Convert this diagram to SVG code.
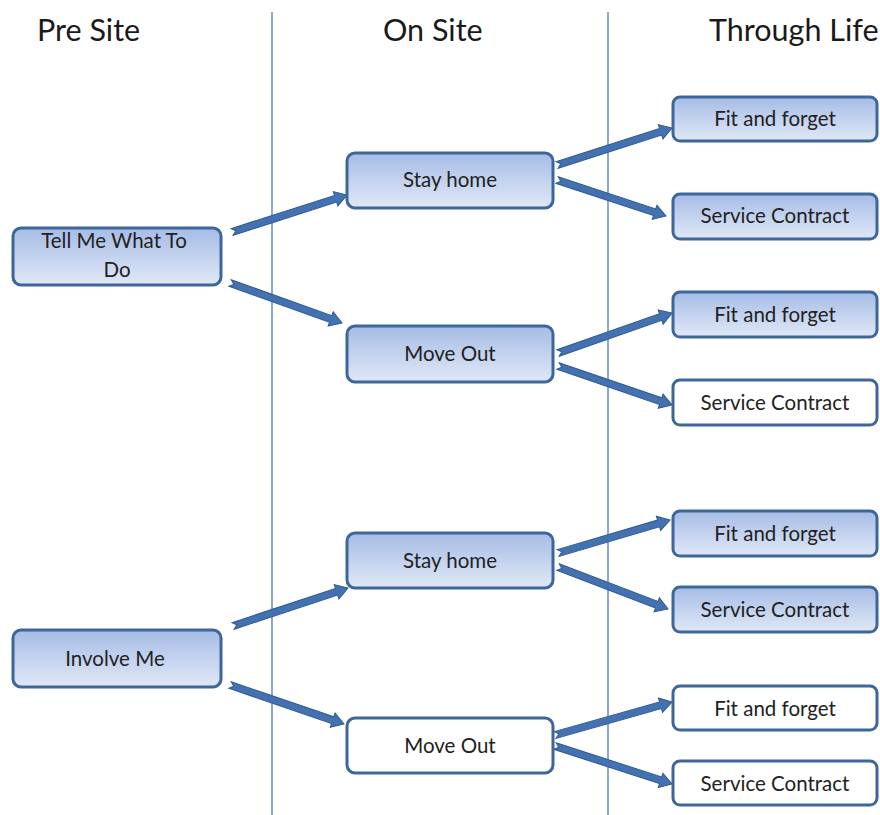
<svg xmlns="http://www.w3.org/2000/svg" width="880" height="815" viewBox="0 0 880 815">
  <style>
    .hdr { font-family: Lato, "Open Sans", "Liberation Sans", sans-serif; font-size: 30.5px; fill: #1a1a1a; }
    .lbl { font-family: Lato, "Open Sans", "Liberation Sans", sans-serif; font-size: 20.5px; fill: #222222; text-anchor: middle; }
    .box { fill: url(#boxFill); stroke: #3d679b; stroke-width: 3; }
    .box-plain { fill: #ffffff; stroke: #3d679b; stroke-width: 3; }
    .lane { stroke: #8aa9d2; stroke-width: 2; }
    .arrow { fill: #4472b0; stroke: #2f5a91; stroke-width: 1; }
  </style>
  <defs>
    <linearGradient id="boxFill" x1="0" y1="0" x2="0" y2="1">
      <stop offset="0" stop-color="#a6bce6"/>
      <stop offset="1" stop-color="#e0e8f6"/>
    </linearGradient>
  </defs>

  <rect width="880" height="815" fill="#ffffff"/>

  <!-- column separators -->
  <g id="lanes">
    <line class="lane" x1="272" y1="12" x2="272" y2="815"/>
    <line class="lane" x1="608" y1="12" x2="608" y2="815"/>
  </g>

  <!-- column headings -->
  <g id="headings">
    <text class="hdr" x="37" y="41">Pre Site</text>
    <text class="hdr" x="383" y="41">On Site</text>
    <text class="hdr" x="709" y="41">Through Life</text>
  </g>

  <!-- block arrows: drawn along +x from the tail, then rotated into place -->
  <g id="connectors">
    <path class="arrow" transform="translate(232,232) rotate(-17.8)" d="M0,-3.5 H108.8 V-7.5 L120.8,0 L108.8,7.5 V3.5 H0 L4,0 Z"/>
    <path class="arrow" transform="translate(230,283) rotate(19.65)" d="M0,-3.5 H106.9 V-7.5 L118.9,0 L106.9,7.5 V3.5 H0 L4,0 Z"/>
    <path class="arrow" transform="translate(557,165) rotate(-17.8)" d="M0,-3.5 H108.8 V-7.5 L120.8,0 L108.8,7.5 V3.5 H0 L4,0 Z"/>
    <path class="arrow" transform="translate(557,180) rotate(18.3)" d="M0,-3.5 H102.8 V-7.5 L114.8,0 L102.8,7.5 V3.5 H0 L4,0 Z"/>
    <path class="arrow" transform="translate(558,353) rotate(-19.3)" d="M0,-3.5 H108.8 V-7.5 L120.8,0 L108.8,7.5 V3.5 H0 L4,0 Z"/>
    <path class="arrow" transform="translate(558,366) rotate(18.9)" d="M0,-3.5 H108.5 V-7.5 L120.5,0 L108.5,7.5 V3.5 H0 L4,0 Z"/>
    <path class="arrow" transform="translate(233,626) rotate(-18.3)" d="M0,-3.5 H109.1 V-7.5 L121.1,0 L109.1,7.5 V3.5 H0 L4,0 Z"/>
    <path class="arrow" transform="translate(230,685) rotate(18.9)" d="M0,-3.5 H108.5 V-7.5 L120.5,0 L108.5,7.5 V3.5 H0 L4,0 Z"/>
    <path class="arrow" transform="translate(558,553) rotate(-16.4)" d="M0,-3.5 H104.8 V-7.5 L116.8,0 L104.8,7.5 V3.5 H0 L4,0 Z"/>
    <path class="arrow" transform="translate(558,567) rotate(20.9)" d="M0,-3.5 H105.7 V-7.5 L117.7,0 L105.7,7.5 V3.5 H0 L4,0 Z"/>
    <path class="arrow" transform="translate(555,735) rotate(-15.75)" d="M0,-3.5 H109.6 V-7.5 L121.6,0 L109.6,7.5 V3.5 H0 L4,0 Z"/>
    <path class="arrow" transform="translate(555,746) rotate(18)" d="M0,-3.5 H111 V-7.5 L123,0 L111,7.5 V3.5 H0 L4,0 Z"/>
  </g>

  <!-- pre site -->
  <g id="tell-me">
    <rect class="box" x="13" y="228" width="208" height="57" rx="8"/>
    <text class="lbl" x="114" y="248">Tell Me What To</text>
    <text class="lbl" x="117" y="277">Do</text>
  </g>
  <g id="involve-me">
    <rect class="box" x="13" y="630" width="208" height="57" rx="8"/>
    <text class="lbl" x="115" y="666">Involve Me</text>
  </g>

  <!-- on site -->
  <g id="stay-home-1">
    <rect class="box" x="347" y="153" width="206" height="55" rx="8"/>
    <text class="lbl" x="450" y="187">Stay home</text>
  </g>
  <g id="move-out-1">
    <rect class="box" x="347" y="326" width="206" height="56" rx="8"/>
    <text class="lbl" x="450" y="361">Move Out</text>
  </g>
  <g id="stay-home-2">
    <rect class="box" x="347" y="533" width="206" height="55" rx="8"/>
    <text class="lbl" x="450" y="568">Stay home</text>
  </g>
  <g id="move-out-2">
    <rect class="box-plain" x="347" y="718" width="206" height="55" rx="8"/>
    <text class="lbl" x="450" y="753">Move Out</text>
  </g>

  <!-- through life -->
  <g id="fit-forget-1">
    <rect class="box" x="673" y="97" width="204" height="44" rx="7"/>
    <text class="lbl" x="775" y="126">Fit and forget</text>
  </g>
  <g id="service-contract-1">
    <rect class="box" x="673" y="194" width="204" height="45" rx="7"/>
    <text class="lbl" x="775" y="223">Service Contract</text>
  </g>
  <g id="fit-forget-2">
    <rect class="box" x="673" y="292" width="204" height="45" rx="7"/>
    <text class="lbl" x="775" y="322">Fit and forget</text>
  </g>
  <g id="service-contract-2">
    <rect class="box-plain" x="673" y="380" width="204" height="45" rx="7"/>
    <text class="lbl" x="775" y="410">Service Contract</text>
  </g>
  <g id="fit-forget-3">
    <rect class="box" x="673" y="511" width="204" height="45" rx="7"/>
    <text class="lbl" x="775" y="541">Fit and forget</text>
  </g>
  <g id="service-contract-3">
    <rect class="box" x="673" y="587" width="204" height="45" rx="7"/>
    <text class="lbl" x="775" y="617">Service Contract</text>
  </g>
  <g id="fit-forget-4">
    <rect class="box-plain" x="673" y="686" width="204" height="44" rx="7"/>
    <text class="lbl" x="775" y="716">Fit and forget</text>
  </g>
  <g id="service-contract-4">
    <rect class="box-plain" x="673" y="761" width="204" height="44" rx="7"/>
    <text class="lbl" x="775" y="791">Service Contract</text>
  </g>
</svg>
